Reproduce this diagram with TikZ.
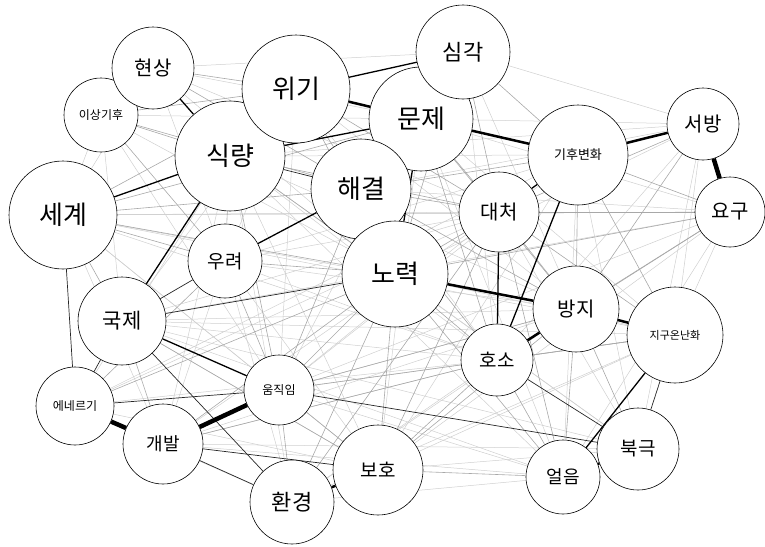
\documentclass[tikz,border=0pt]{standalone}
\usepackage{fontspec}
\setmainfont{Noto Sans CJK KR}
\usetikzlibrary{backgrounds}

\def\bigf{\fontsize{26}{26}\selectfont}
\def\midf{\fontsize{20}{20}\selectfont}
\def\smallf{\fontsize{12}{12}\selectfont}
\tikzstyle{word}=[draw,circle,fill=white,inner sep=0pt,line width=0.6pt]
\tikzstyle{bigword}=[word,font=\bigf]
\tikzstyle{midword}=[word,font=\midf]
\tikzstyle{smallword}=[word,font=\smallf]
\tikzstyle{faint}=[color=gray!38,line width=0.5pt]
\tikzstyle{weak}=[color=gray!68,line width=0.6pt]
\tikzstyle{firm}=[color=black!85,line width=0.7pt]
\tikzstyle{strong}=[color=black,line width=1.3pt]
\tikzstyle{heavy}=[color=black,line width=2.5pt]
\tikzstyle{heaviest}=[color=black,line width=4.5pt]

\begin{document}
\begin{tikzpicture}[x=1pt,y=-1pt]
  \useasboundingbox (0,0) rectangle (765,546);

  % Place the words
  \node[smallword,minimum size=74pt] (ig) at (101,115) {이상기후};
  \node[midword,minimum size=82pt] (hs) at (153,68) {현상};
  \node[bigword,minimum size=110pt] (sr) at (230,156) {식량};
  \node[bigword,minimum size=108pt] (wg) at (296,89) {위기};
  \node[bigword,minimum size=104pt] (mj) at (421,119) {문제};
  \node[midword,minimum size=94pt,font=\fontsize{22}{22}\selectfont] (sg) at (463,52) {심각};
  \node[bigword,minimum size=100pt] (hg) at (361,189) {해결};
  \node[bigword,minimum size=108pt] (sk) at (63,215) {세계};
  \node[smallword,minimum size=100pt,font=\fontsize{13}{13}\selectfont] (gh) at (578,155) {기후변화};
  \node[midword,minimum size=72pt] (sb) at (703,124) {서방};
  \node[midword,minimum size=70pt] (yg) at (730,212) {요구};
  \node[midword,minimum size=80pt] (dc) at (499,212) {대처};
  \node[midword,minimum size=74pt,font=\fontsize{19}{19}\selectfont] (ur) at (225,261) {우려};
  \node[bigword,minimum size=106pt] (nr) at (395,274) {노력};
  \node[midword,minimum size=86pt] (bj) at (576,309) {방지};
  \node[smallword,minimum size=96pt,font=\fontsize{11}{11}\selectfont] (gn) at (675,335) {지구온난화};

  % Lower half
  \node[midword,minimum size=88pt,font=\fontsize{21}{21}\selectfont] (gj) at (122,321) {국제};
  \node[midword,minimum size=72pt,font=\fontsize{19}{19}\selectfont] (hso) at (497,360) {호소};
  \node[smallword,minimum size=70pt] (um) at (279,390) {움직임};
  \node[smallword,minimum size=78pt] (en) at (75,406) {에네르기};
  \node[midword,minimum size=80pt,font=\fontsize{18}{18}\selectfont] (gb) at (163,444) {개발};
  \node[midword,minimum size=84pt,font=\fontsize{22}{22}\selectfont] (hk) at (292,502) {환경};
  \node[midword,minimum size=90pt,font=\fontsize{19}{19}\selectfont] (bh) at (378,470) {보호};
  \node[midword,minimum size=74pt,font=\fontsize{18}{18}\selectfont] (er) at (563,477) {얼음};
  \node[midword,minimum size=82pt,font=\fontsize{19}{19}\selectfont] (bg) at (638,449) {북극};

  \begin{scope}[on background layer]
    % faint co-occurrences
    \foreach \a/\b in {sk/dc,sk/bj,sk/yg,sk/hso,sk/um,sk/gb,sk/bh,sk/hs,sk/ig,
      ig/nr,ig/mj,ig/um,ig/gj,hs/mj,hs/nr,hs/ur,hs/sg,hs/dc,sr/gh,sr/bj,sr/hso,
      sr/bh,sr/hk,sr/gb,sr/en,wg/gh,wg/bj,wg/ur,wg/um,wg/hso,wg/gj,sg/sb,sg/bj,
      sg/hso,sg/hg,mj/sb,mj/yg,mj/gn,mj/um,mj/bh,mj/er,gh/er,gh/bg,gh/bh,gh/um,
      sb/gn,sb/nr,sb/hso,sb/bg,sb/hg,yg/gn,yg/bh,yg/hg,yg/um,yg/er,dc/um,dc/gb,
      dc/bg,dc/gj,nr/gn,nr/bg,bj/um,bj/hk,bj/gb,bj/gj,gn/um,gn/bh,gn/hk,gn/gj,
      hso/hk,hso/gj,hso/gb,hso/en,um/er,gb/er,gb/bg,hk/er,bh/bg,bh/gj,bh/en,
      en/hk,gj/bg,gj/er,ur/bh,ur/hk,ur/gb,ur/hso,ur/bj,ur/dc,ur/gh,yg/sk,
      sb/sr,yg/gj,gn/sk,bg/sr,er/sr,en/dc,en/gh}
      \draw[faint] (\a) -- (\b);
    % weaker links
    \foreach \a/\b in {sk/wg,sk/hg,sk/nr,sk/ur,sk/gj,sk/mj,ig/wg,ig/hg,ig/ur,
      hs/wg,hs/hg,sr/nr,sr/ur,sr/dc,sr/um,wg/hg,wg/dc,wg/nr,mj/dc,mj/hso,mj/bj,
      sg/dc,sg/nr,sg/gh,hg/dc,hg/nr,hg/gh,hg/bj,hg/um,hg/hso,dc/nr,dc/bj,dc/gn,
      gh/bj,gh/gn,gh/yg,sb/dc,sb/bj,nr/hso,nr/um,nr/bh,nr/gb,nr/er,ur/nr,ur/um,
      gj/gb,gj/bh,um/bh,um/hk,um/hso,um/bj,bh/hso,bh/bj,bh/er,hso/er,bj/er,
      bj/bg,hso/gn,en/ur,en/nr,gb/hso,hk/nr,hk/dc,yg/bj,yg/hso,yg/nr,yg/dc,
      gn/hso,dc/er,dc/bh,sb/gh,ig/sr}
      \draw[weak] (\a) -- (\b);
    % firm links
    \foreach \a/\b in {sk/en,gj/nr,en/um,gb/hk,gb/bh,gj/hk,hso/bg,um/bg,
      gj/en,gn/bg,sr/hg,ur/gj}
      \draw[firm] (\a) -- (\b);
    % strong links
    \foreach \a/\b in {sk/sr,hs/sr,sr/gj,gj/um,gn/er,gh/hso,dc/hso,mj/nr,
      ur/hg,sr/mj,gh/dc,wg/sg}
      \draw[strong] (\a) -- (\b);
    \foreach \a/\b in {wg/mj,mj/gh,gh/sb,bj/hso,bj/gn,er/bg,hk/bh,nr/bj}
      \draw[heavy] (\a) -- (\b);
    \foreach \a/\b in {sb/yg,en/gb,gb/um}
      \draw[heaviest] (\a) -- (\b);
  \end{scope}
\end{tikzpicture}
\end{document}
